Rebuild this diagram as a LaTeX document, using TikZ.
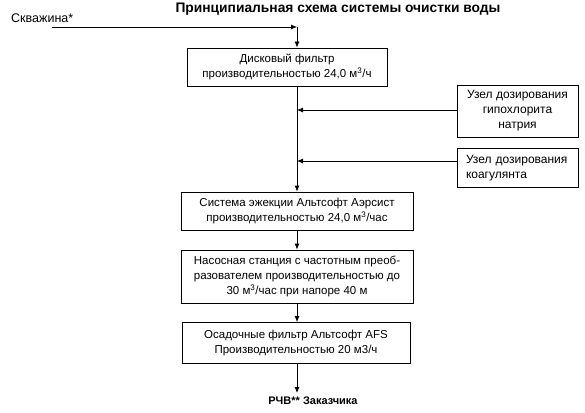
\documentclass[tikz,border=0pt]{standalone}
\usepackage{fontspec}
\setmainfont{Liberation Sans}
\usetikzlibrary{arrows.meta}
\begin{document}
\begin{tikzpicture}[x=1pt,y=-1pt,
  box/.style={draw, line width=0.8pt, inner sep=0pt, align=center, font=\fontsize{11.5}{15}\selectfont},
  arr/.style={line width=0.8pt, -{Latex[length=6pt,width=5pt]}},
  lbl/.style={inner sep=0pt, font=\fontsize{12.5}{15}\selectfont}]
\useasboundingbox (0,0) rectangle (585,412);
\node[inner sep=0pt, font=\bfseries\fontsize{13.8}{16}\selectfont] (title) at (338,9) {Принципиальная схема системы очистки воды};
\node[lbl, anchor=west] (well) at (11,18) {Скважина*};
\coordinate (start) at (52,27);
\coordinate (corner) at (297,27);
\node[box, minimum width=200pt, minimum height=38pt] (b1) at (287,67) {Дисковый фильтр\\производительностью 24,0 м\textsuperscript{3}/ч};
\node[box, minimum width=121pt, minimum height=52pt, font=\fontsize{12}{15}\selectfont] (hyp) at (517.5,111) {Узел дозирования\\гипохлорита\\натрия};
\node[box, minimum width=121pt, minimum height=39pt, align=left, text width=103pt, font=\fontsize{12}{15}\selectfont] (coag) at (517.5,168) {Узел дозирования\\коагулянта};
\node[box, minimum width=232pt, minimum height=38pt] (b3) at (297,211) {Система эжекции Альтсофт Аэрсист\\производительностью 24,0 м\textsuperscript{3}/час};
\node[box, minimum width=232pt, minimum height=53pt] (b4) at (297,276.5) {Насосная станция с частотным преоб-\\разователем производительностью до\\30 м\textsuperscript{3}/час при напоре 40 м};
\node[box, minimum width=228pt, minimum height=41pt] (b5) at (296,343) {Осадочные фильтр Альтсофт AFS\\Производительностью 20 м3/ч};
\coordinate (endp) at (297,393);
\node[inner sep=0pt, font=\bfseries\fontsize{11}{13}\selectfont] (rchv) at (313,401) {РЧВ** Заказчика};
\coordinate (m1) at (297,110);
\coordinate (m2) at (297,161);
% connectors
\draw[arr] (start) -- (corner);
\draw[arr] (corner) -- (corner |- b1.north);
\draw[arr] (corner |- b1.south) -- (b3.north -| corner);
\draw[arr] (hyp.west |- m1) -- (m1);
\draw[arr] (coag.west |- m2) -- (m2);
\draw[arr] (b3.south -| corner) -- (b4.north -| corner);
\draw[arr] (b4.south -| corner) -- (b5.north -| corner);
\draw[arr] (b5.south -| corner) -- (endp);
\end{tikzpicture}
\end{document}
